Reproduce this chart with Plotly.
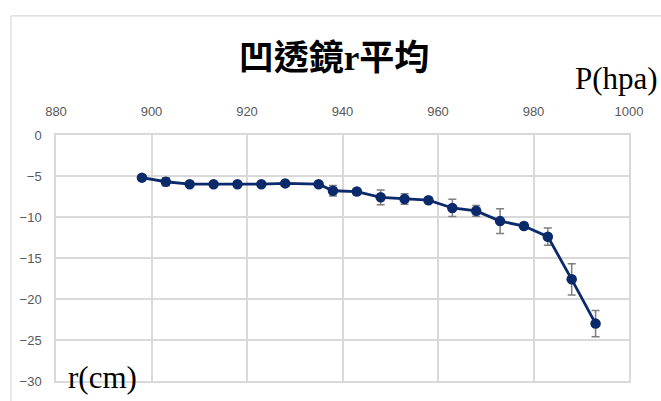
import plotly.graph_objects as go

pressure = [898, 903, 908, 913, 918, 923, 928, 935, 938, 943, 948, 953, 958, 963, 968, 973, 978, 983, 988, 993]
r_mean = [-5.2, -5.7, -6.0, -6.0, -6.0, -6.0, -5.9, -6.0, -6.8, -6.9, -7.6, -7.8, -7.95, -8.9, -9.25, -10.5, -11.1, -12.4, -17.6, -23.0]
r_err = [0.1, 0.5, 0.15, 0.15, 0.15, 0.15, 0.15, 0.2, 0.65, 0.35, 0.9, 0.65, 0.3, 1.05, 0.65, 1.5, 0.4, 1.05, 1.9, 1.6]

W, H = 661, 401
L, R, T, B = 56, 32, 135, 14
pw, ph = W - L - R, H - T - B

def px(x):
    return (x - L) / pw

def py(y):
    return (H - B - y) / ph

navy = "#0B2A6B"
grid = "#D9D9D9"
tickc = "#595959"

fig = go.Figure()
fig.add_trace(go.Scatter(
    x=pressure, y=r_mean, mode="lines+markers",
    line=dict(color=navy, width=2.8),
    marker=dict(color=navy, size=10.5),
    error_y=dict(type="data", array=r_err, visible=True, color="#7F7F7F", thickness=1.5, width=4),
    showlegend=False,
))

fig.update_layout(
    width=W, height=H,
    margin=dict(l=L, r=R, t=T, b=B),
    paper_bgcolor="white", plot_bgcolor="white",
    title=dict(text="<b>凹透鏡r平均</b>", x=334 / W, xanchor="center", y=1 - 58 / H, yanchor="middle",
               font=dict(family="Liberation Serif, Noto Sans CJK TC", size=35, color="black")),
    xaxis=dict(side="top", range=[880, 1000], dtick=20, tick0=880,
               showgrid=True, gridcolor=grid, gridwidth=1.5,
               showline=True, linecolor=grid, linewidth=1.5, mirror=True,
               zeroline=False, ticks="", ticklabelstandoff=12,
               tickfont=dict(family="Liberation Sans Narrow, Liberation Sans", size=13, color=tickc)),
    yaxis=dict(range=[-30, 0], dtick=5, tick0=0,
               showgrid=True, gridcolor=grid, gridwidth=1.5,
               showline=True, linecolor=grid, linewidth=1.5, mirror=True,
               zeroline=False, ticks="", ticklabelstandoff=10,
               tickfont=dict(family="Liberation Sans Narrow, Liberation Sans", size=13, color=tickc)),
    annotations=[
        dict(text="P(hpa)", xref="paper", yref="paper", x=px(616), y=py(77),
             xanchor="center", yanchor="middle", showarrow=False,
             font=dict(family="Liberation Serif", size=31, color="black")),
        dict(text="r(cm)", xref="paper", yref="paper", x=px(102), y=py(383),
             xanchor="center", yanchor="middle", showarrow=False,
             font=dict(family="Liberation Serif", size=31, color="black")),
    ],
    shapes=[
        dict(type="rect", xref="paper", yref="paper", x0=px(11), x1=px(700), y0=py(440), y1=py(13),
             line=dict(color="#D0D0D0", width=1), layer="below"),
    ],
)

fig.write_html("out.html")
